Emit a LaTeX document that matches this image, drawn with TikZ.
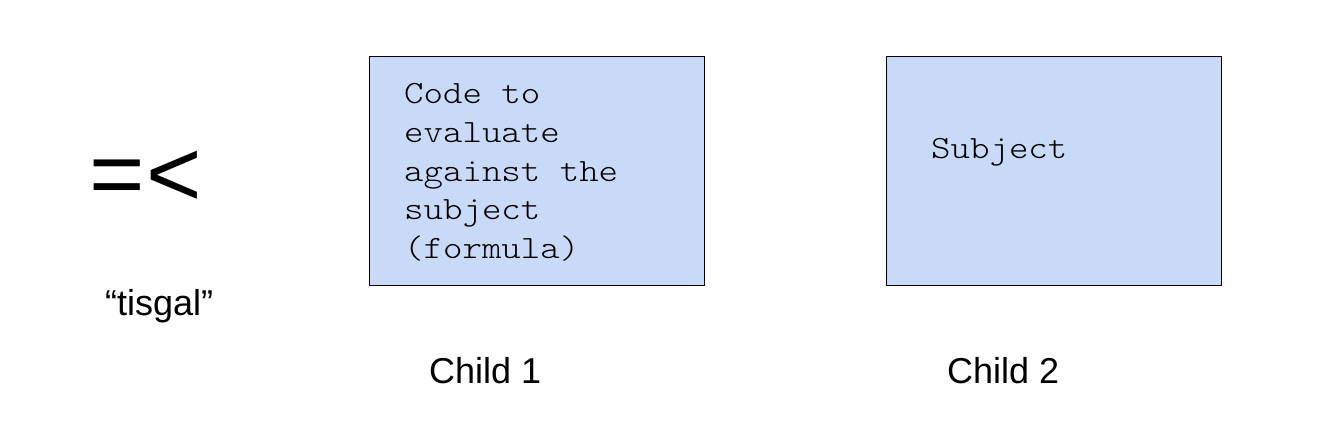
\documentclass[tikz,border=0pt]{standalone}
\usepackage{fontspec}
\setmainfont{Liberation Sans}
\newfontfamily\monofont[FakeStretch=1.14]{Latin Modern Mono Light}
\definecolor{boxblue}{HTML}{C9DAF8}
\begin{document}
\begin{tikzpicture}[x=1pt,y=-1pt,
  childbox/.style={draw=black,line width=1.3pt,fill=boxblue,inner sep=0pt,anchor=north west,minimum width=335pt,minimum height=229pt},
  codetext/.style={inner sep=0pt,anchor=base west,font=\monofont\fontsize{32.5}{38.6}\selectfont},
  labeltext/.style={inner sep=0pt,anchor=base west,font=\fontsize{36}{43}\selectfont}]
\useasboundingbox (0,0) rectangle (1328,430);
\node[inner sep=0pt,anchor=base west,font=\fontsize{95}{110}\selectfont] (op) at (89,207) {=\kern2pt<};
\node[labeltext] (nick) at (105,316) {“tisgal”};
\node[childbox] (c1) at (369,56) {};
\node[childbox] (c2) at (886,56) {};
\node[codetext] (t1) at (404,104) {\begin{tabular}[t]{@{}l@{}}Code to\\evaluate\\against the\\subject\\(formula)\end{tabular}};
\node[codetext] (t2) at (931,159) {Subject};
\node[labeltext] (l1) at (429,383) {Child 1};
\node[labeltext] (l2) at (947,383) {Child 2};
\end{tikzpicture}
\end{document}
